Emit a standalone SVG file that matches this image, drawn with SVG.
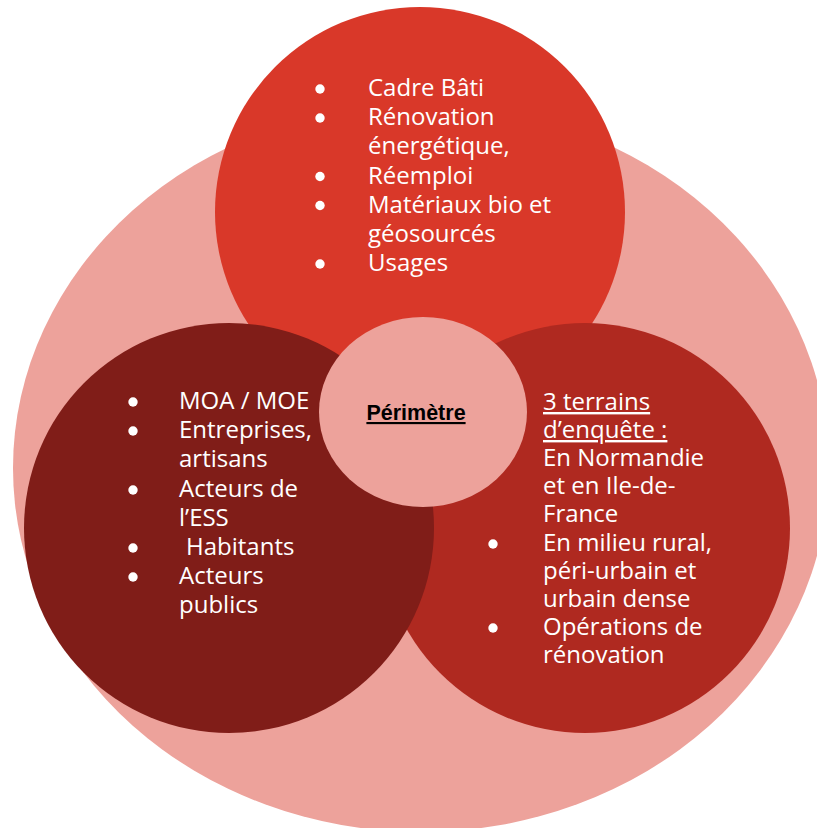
<svg xmlns="http://www.w3.org/2000/svg" width="817" height="828" viewBox="0 0 817 828">
<style>
.t{font-family:"Open Sans","Liberation Sans",sans-serif;font-size:24px;fill:#ffffff}
.b{fill:#ffffff}
.u{text-decoration:underline}
.c{font-family:"Liberation Sans",Arial,sans-serif;font-size:21.5px;font-weight:bold;fill:#000000;text-decoration:underline}
</style>
<rect width="817" height="828" fill="#ffffff"/>
<g id="outer">
<ellipse cx="421" cy="468" rx="408" ry="364" fill="#EDA29B"/>
</g>
<g id="connectors"></g>
<g id="top">
<circle cx="420" cy="212" r="205" fill="#D93829"/>
<circle class="b" cx="320" cy="89" r="4.7"/>
<circle class="b" cx="320" cy="118" r="4.7"/>
<circle class="b" cx="320" cy="176.5" r="4.7"/>
<circle class="b" cx="320" cy="205.5" r="4.7"/>
<circle class="b" cx="320" cy="264" r="4.7"/>
<text class="t" x="368" y="96">Cadre Bâti</text>
<text class="t" x="368" y="125.2">Rénovation</text>
<text class="t" x="368" y="154.4">énergétique,</text>
<text class="t" x="368" y="183.6">Réemploi</text>
<text class="t" x="368" y="212.8">Matériaux bio et</text>
<text class="t" x="368" y="242">géosourcés</text>
<text class="t" x="368" y="271.2">Usages</text>
</g>
<g id="right">
<circle cx="585" cy="528" r="205" fill="#AF2920"/>
<text class="t u" x="543" y="410">3 terrains</text>
<text class="t u" x="543" y="438">d’enquête :</text>
<text class="t" x="543" y="466">En Normandie</text>
<text class="t" x="543" y="494">et en Ile-de-</text>
<text class="t" x="543" y="522">France</text>
<circle class="b" cx="493" cy="544" r="4.7"/>
<text class="t" x="543" y="551">En milieu rural,</text>
<text class="t" x="543" y="579">péri-urbain et</text>
<text class="t" x="543" y="607">urbain dense</text>
<circle class="b" cx="493" cy="628" r="4.7"/>
<text class="t" x="543" y="635">Opérations de</text>
<text class="t" x="543" y="663">rénovation</text>
</g>
<g id="left">
<circle cx="229" cy="528" r="205" fill="#801D18"/>
<circle class="b" cx="133" cy="402" r="4.7"/>
<circle class="b" cx="133" cy="431" r="4.7"/>
<circle class="b" cx="133" cy="490" r="4.7"/>
<circle class="b" cx="133" cy="548" r="4.7"/>
<circle class="b" cx="133" cy="577" r="4.7"/>
<text class="t" x="179" y="409">MOA / MOE</text>
<text class="t" x="179" y="438">Entreprises,</text>
<text class="t" x="179" y="467">artisans</text>
<text class="t" x="179" y="497">Acteurs de</text>
<text class="t" x="179" y="526">l’ESS</text>
<text class="t" x="186" y="555">Habitants</text>
<text class="t" x="179" y="584">Acteurs</text>
<text class="t" x="179" y="613">publics</text>
</g>
<g id="center">
<ellipse cx="423" cy="412" rx="104" ry="95" fill="#EDA29B"/>
<text class="c" x="416" y="420" text-anchor="middle">Périmètre</text>
</g>
</svg>
